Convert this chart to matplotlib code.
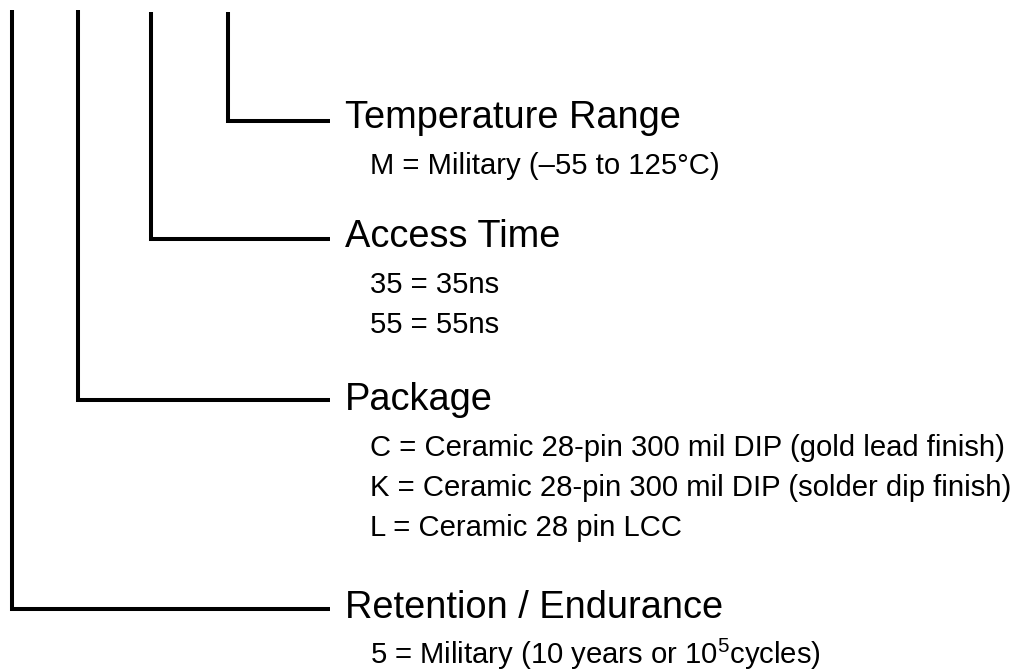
import matplotlib.pyplot as plt

plt.rcParams['font.family'] = ['Liberation Sans', 'DejaVu Sans']
plt.rcParams['mathtext.fontset'] = 'custom'
plt.rcParams['mathtext.rm'] = 'Liberation Sans'
plt.rcParams['mathtext.default'] = 'regular'

# ordering code fields, innermost first
headings = ['Temperature Range', 'Access Time', 'Package', 'Retention / Endurance']
options = [
    ['M = Military (\u201355 to 125\u00b0C)'],
    ['35 = 35ns', '55 = 55ns'],
    ['C = Ceramic 28-pin 300 mil DIP (gold lead finish)',
     'K = Ceramic 28-pin 300 mil DIP (solder dip finish)',
     'L = Ceramic 28 pin LCC'],
    ['5 = Military (10 years or 10$^{5}$cycles)'],
]

# layout in pixels (figure is 1017 x 672)
W, H = 1017, 672
stem_x = [228, 151, 78, 12]
stem_top = [12, 12, 10, 10]
branch_y = [121, 239, 400, 609]
branch_end = 330
head_x, item_x = 345, 370
head_base = [128, 247, 410, 618]
item_gap0, item_gap = 46, 40

fig = plt.figure(figsize=(W / 100, H / 100), dpi=100)
ax = fig.add_axes([0, 0, 1, 1])
ax.set_xlim(0, W)
ax.set_ylim(H, 0)
ax.axis('off')

for i, name in enumerate(headings):
    ax.plot([stem_x[i], stem_x[i], branch_end], [stem_top[i], branch_y[i], branch_y[i]],
            color='black', lw=2.9, solid_joinstyle='miter', solid_capstyle='butt')
    ax.text(head_x, head_base[i], name, fontsize=27.4, va='baseline', ha='left')
    for j, opt in enumerate(options[i]):
        y = head_base[i] + item_gap0 + j * item_gap
        ax.text(item_x, y, opt, fontsize=21.1, va='baseline', ha='left')

fig.savefig('out.png', dpi=100, facecolor='white')
